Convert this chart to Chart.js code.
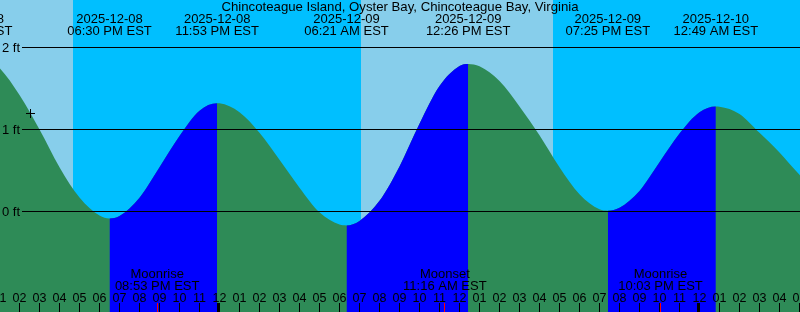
<!DOCTYPE html>
<html><head><meta charset="utf-8">
<script src="https://cdn.jsdelivr.net/npm/chart.js@4.4.1/dist/chart.umd.min.js"></script>
<style>html,body{margin:0;padding:0;background:#fff;overflow:hidden}#wrap{width:800px;height:312px;position:relative}</style>
</head><body><div id="wrap"><canvas id="c" width="800" height="312"></canvas></div>
<script>
const chartTitle = 'Chincoteague Island, Oyster Bay, Chincoteague Bay, Virginia';
// hours relative to 2025-12-09 00:00 EST; tide level in feet
const tideHours = [-13, -12.43, -12, -11, -10, -9, -8, -7, -6, -5.5, -5, -4, -3, -2, -1, -0.117, 0, 1, 2, 3, 4, 5, 6, 6.35, 7, 8, 9, 10, 11, 12, 12.433, 13, 14, 15, 16, 17, 18, 19, 19.417, 20, 21, 22, 23, 24, 24.817, 25, 26, 27, 28, 29, 30];
const tideFeet = [1.92, 1.95, 1.93, 1.75, 1.42, 1.0, 0.54, 0.17, -0.05, -0.085, -0.055, 0.167, 0.54, 0.92, 1.23, 1.32, 1.319, 1.21, 0.96, 0.63, 0.29, -0.01, -0.16, -0.17, -0.115, 0.13, 0.55, 1.07, 1.53, 1.775, 1.80, 1.77, 1.59, 1.28, 0.93, 0.54, 0.21, 0.026, 0.01, 0.046, 0.25, 0.6, 0.95, 1.21, 1.28, 1.278, 1.19, 0.96, 0.72, 0.447, 0.2];
// tide events (highs / lows)
const eventHours = [-12.44, -5.5, -0.117, 6.35, 12.433, 19.417, 24.817];
const eventDates = ['2025-12-08', '2025-12-08', '2025-12-08', '2025-12-09', '2025-12-09', '2025-12-09', '2025-12-10'];
const eventTimes = ['11:34 AM EST', '06:30 PM EST', '11:53 PM EST', '06:21 AM EST', '12:26 PM EST', '07:25 PM EST', '12:49 AM EST'];
// moon events
const moonHours = [-3.117, 11.267, 22.05];
const moonNames = ['Moonrise', 'Moonset', 'Moonrise'];
const moonTimes = ['08:53 PM EST', '11:16 AM EST', '10:03 PM EST'];
// night spans (sunset -> sunrise), hours
const nightStart = [-7.325, 16.675];
const nightEnd = [7.075, 31.1];
// level reference lines
const levelValues = [0, 1, 2];
const levelLabels = ['0 ft', '1 ft', '2 ft'];
// current time marker
const nowHour = [-9.45];
const nowFeet = [1.195];
// visible window
const xMin = -10.975, xMax = 29.025;
const yMin = -1.2256, yMax = 2.5793;

const FAMILY = '"Liberation Sans", Arial, sans-serif';
const FONT = '13px ' + FAMILY;
const TITLE_FONT = '13.2px ' + FAMILY;
const HOUR_FONT = '12.5px ' + FAMILY;
const DAY = '#87CEEB', NIGHT = '#00BFFF', FALL = '#2E8B57', RISE = '#0000FF';

const skyPlugin = {
  id: 'sky',
  beforeDatasetsDraw(chart) {
    const {ctx, chartArea: a, scales: {x}} = chart;
    ctx.save();
    ctx.fillStyle = DAY;
    ctx.fillRect(a.left, a.top, a.right - a.left, a.bottom - a.top);
    ctx.fillStyle = NIGHT;
    for (let i = 0; i < nightStart.length; i++) {
      const x0 = Math.max(a.left, x.getPixelForValue(nightStart[i]));
      const x1 = Math.min(a.right, x.getPixelForValue(nightEnd[i]));
      ctx.fillRect(Math.round(x0), a.top, Math.round(x1) - Math.round(x0), a.bottom - a.top);
    }
    ctx.restore();
  }
};

const overlayPlugin = {
  id: 'overlay',
  afterDatasetsDraw(chart) {
    const {ctx, chartArea: a, scales: {x, y}} = chart;
    ctx.save();
    ctx.font = FONT;
    ctx.fillStyle = '#000';
    ctx.textBaseline = 'alphabetic';
    // level lines
    levelValues.forEach((v, i) => {
      const py = Math.floor(y.getPixelForValue(v));
      ctx.fillStyle = '#000';
      ctx.fillRect(22, py, a.right - 22, 1);
      ctx.textAlign = 'right';
      ctx.fillText(levelLabels[i], 20, py + 5);
    });
    // hour ticks and labels
    ctx.textAlign = 'center';
    ctx.font = HOUR_FONT;
    for (let h = Math.ceil(xMin) - 1; h <= Math.floor(xMax) + 1; h++) {
      const px = x.getPixelForValue(h);
      let hh = ((h % 12) + 12) % 12; if (hh === 0) hh = 12;
      const lbl = (hh < 10 ? '0' : '') + hh;
      ctx.fillStyle = '#000';
      ctx.fillText(lbl, px, 302);
      if (((h % 24) + 24) % 24 === 0) {
        ctx.fillRect(Math.floor(px) - 2, 303, 3, 9);
      } else {
        ctx.fillRect(Math.floor(px), 303, 1, 9);
      }
    }
    ctx.font = FONT;
    // moon events
    moonHours.forEach((h, i) => {
      const px = x.getPixelForValue(h);
      ctx.fillStyle = '#FF0000';
      ctx.fillRect(Math.floor(px), 303, 1, 9);
      ctx.fillStyle = '#000';
      ctx.fillText(moonNames[i], px, 278);
      ctx.fillText(moonTimes[i], px, 290);
    });
    // tide events
    eventHours.forEach((h, i) => {
      const px = x.getPixelForValue(h);
      ctx.fillStyle = '#000';
      ctx.fillText(eventDates[i], px, 23);
      ctx.fillText(eventTimes[i], px, 35);
    });
    // title
    ctx.font = TITLE_FONT;
    ctx.fillText(chartTitle, (a.left + a.right) / 2, 11);
    ctx.restore();
  }
};

const tidePoints = tideHours.map((h, i) => ({x: h, y: tideFeet[i]}));

new Chart(document.getElementById('c'), {
  type: 'line',
  data: {
    datasets: [{
      // whole water body (falling colour underneath)
      order: 2,
      data: tidePoints,
      fill: 'start',
      borderWidth: 0,
      borderColor: 'rgba(0,0,0,0)',
      backgroundColor: FALL,
      pointRadius: 0,
      cubicInterpolationMode: 'monotone'
    }, {
      // rising stretches painted on top
      order: 1,
      data: tidePoints,
      fill: 'start',
      borderWidth: 0,
      borderColor: 'rgba(0,0,0,0)',
      backgroundColor: 'rgba(0,0,0,0)',
      pointRadius: 0,
      cubicInterpolationMode: 'monotone',
      segment: {
        backgroundColor: c => (c.p1.parsed.y > c.p0.parsed.y ? RISE : 'rgba(0,0,0,0)')
      }
    }, {
      order: 0,
      type: 'scatter',
      data: nowHour.map((h, i) => ({x: h, y: nowFeet[i]})),
      pointStyle: 'cross',
      pointRadius: 4.5,
      borderColor: '#000',
      backgroundColor: '#000',
      borderWidth: 1,
      showLine: false,
      fill: false
    }]
  },
  options: {
    responsive: false,
    animation: false,
    devicePixelRatio: 1,
    layout: {padding: 0, autoPadding: false},
    plugins: {legend: {display: false}, tooltip: {enabled: false}, title: {display: false}},
    scales: {
      x: {type: 'linear', min: xMin, max: xMax, display: false},
      y: {type: 'linear', min: yMin, max: yMax, display: false}
    }
  },
  plugins: [skyPlugin, overlayPlugin]
});
</script>
</body></html>
